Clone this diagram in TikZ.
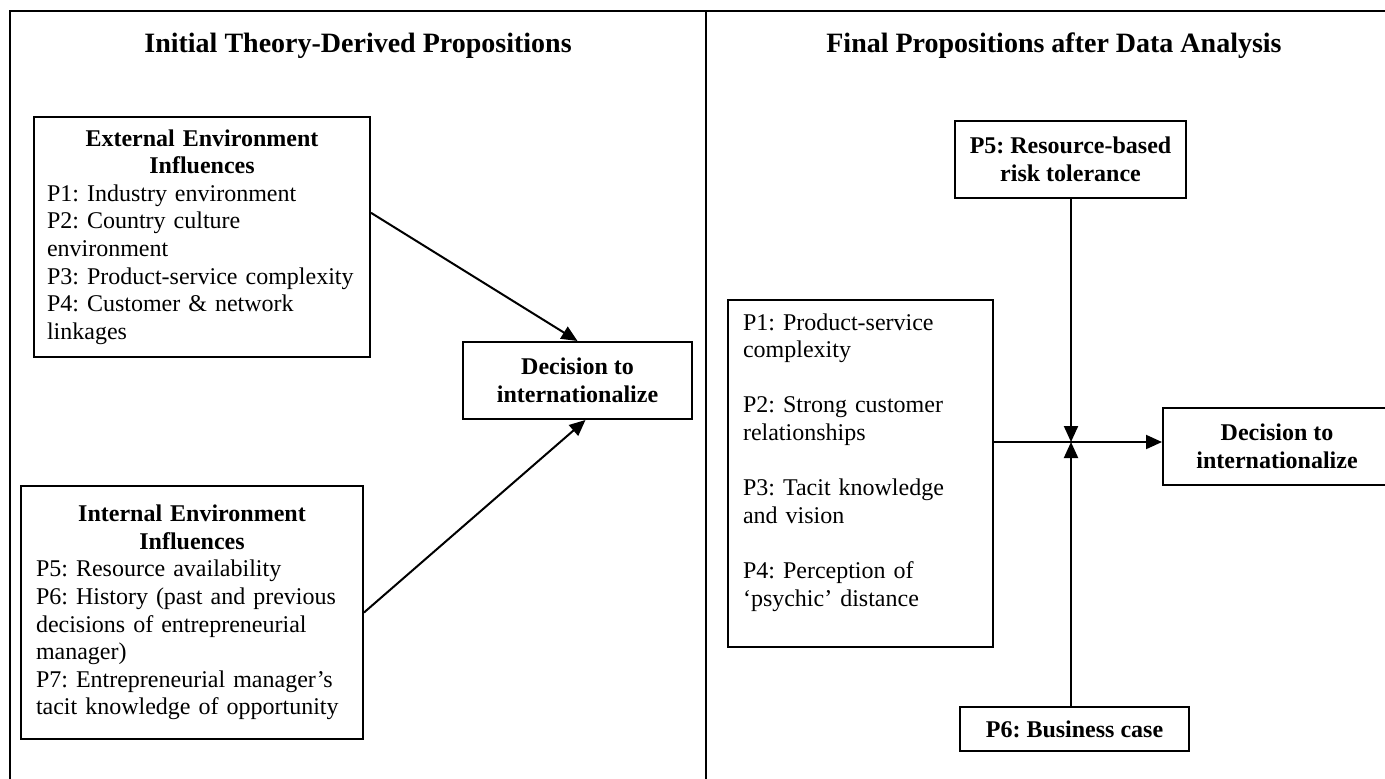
\documentclass[tikz,border=0pt]{standalone}
\usepackage{fontspec}
\setmainfont{Liberation Serif}
\usepackage{tikz}
\usetikzlibrary{arrows.meta,positioning,calc}
\frenchspacing
\hyphenpenalty=10000
\tikzset{
  frame/.style={line width=1pt},
  propbox/.style={draw,line width=1pt,font=\fontsize{12}{13.8}\selectfont,align=left,inner xsep=7.5pt,inner ysep=0pt},
  boldbox/.style={draw,line width=1pt,font=\fontsize{12}{13.8}\selectfont\bfseries,align=center,inner sep=0pt},
  paneltitle/.style={anchor=base,font=\fontsize{14}{16}\selectfont\bfseries,inner sep=0pt},
  link/.style={line width=1pt,-{Triangle[length=8pt,width=7pt]}},
}

\begin{document}
\begin{tikzpicture}[x=0.5pt,y=0.5pt,yscale=-1]
\useasboundingbox (0,0) rectangle (1385,778);

%Shape: Frame
\draw[frame] (10,800) -- (10,11) -- (1402,11) -- (1402,800);
%Straight Lines
\draw[frame] (706,11) -- (706,800);

% Text Node
\node (titleL) [paneltitle] at (358,52) {Initial Theory-Derived Propositions};
% Text Node
\node (titleR) [paneltitle] at (1054,52) {Final Propositions after Data Analysis};

%Shape: Rectangle
\node (ext) [propbox,inner xsep=6.5pt,text width=155pt,minimum height=120pt] at (202,237)
  {{\centering\bfseries External Environment\\ Influences\par}
   P1: Industry environment\\ P2: Country culture\\ environment\\
   P3: Product-service complexity\\ P4: Customer \& network\\ linkages};
%Shape: Rectangle
\node (int) [propbox,text width=156pt,minimum height=126.5pt] at (192,612.5)
  {{\centering\bfseries Internal Environment\\ Influences\par}
   P5: Resource availability\\ P6: History (past and previous\\
   decisions of entrepreneurial\\ manager)\\
   P7: Entrepreneurial manager’s\\ tacit knowledge of opportunity};
%Shape: Rectangle
\node (dec1) [boldbox,minimum width=114.5pt,minimum height=38.5pt] at (577.5,380.5)
  {Decision to\\ internationalize};

%Shape: Rectangle
\node (plist) [propbox,text width=117.5pt,minimum height=173.5pt] at (860.5,473.5)
  {P1: Product-service\\ complexity\\[13.8pt]
   P2: Strong customer\\ relationships\\[13.8pt]
   P3: Tacit knowledge\\ and vision\\[13.8pt]
   P4: Perception of\\ ‘psychic’ distance\\ \mbox{}};
%Shape: Rectangle
\node (p5) [boldbox,minimum width=115.5pt,minimum height=38.5pt] at (1070.5,159.5)
  {P5: Resource-based\\ risk tolerance};
%Shape: Rectangle
\node (p6) [boldbox,minimum width=114.5pt,minimum height=22pt] at (1074.5,729)
  {P6: Business case};
%Shape: Rectangle
\node (dec2) [boldbox,minimum width=114pt,minimum height=38.5pt] at (1277,446.5)
  {Decision to\\ internationalize};
\coordinate (hub) at (1071,442);

%Straight Lines
\draw[link] ($(ext.north east)!0.4!(ext.south east)$) -- (dec1.north);
\draw[link] (int.east) -- ($(dec1.south)+(8,0)$);
%Straight Lines
\draw[link] (hub |- p5.south) -- (hub);
\draw[link] (hub |- p6.north) -- (hub);
\draw[link] (plist.east |- hub) -- (hub -| dec2.west);

\end{tikzpicture}
\end{document}
